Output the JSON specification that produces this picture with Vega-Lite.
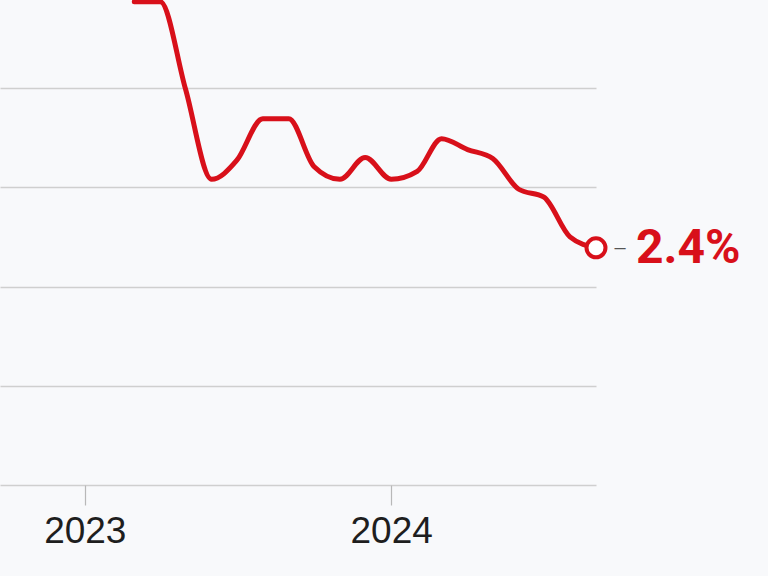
{
  "$schema": "https://vega.github.io/schema/vega-lite/v6.json",
  "autosize": {"type": "none"},
  "width": 596,
  "height": 485,
  "padding": {"top": 0, "left": 0, "right": 172, "bottom": 91},
  "background": "#f8f9fb",
  "config": {"view": {"stroke": null}},
  "data": {
    "values": [
      {"date": "2023-03-01", "value": 4.87},
      {"date": "2023-04-01", "value": 4.87},
      {"date": "2023-05-01", "value": 3.99},
      {"date": "2023-06-01", "value": 3.08},
      {"date": "2023-07-01", "value": 3.27},
      {"date": "2023-08-01", "value": 3.69},
      {"date": "2023-09-01", "value": 3.69},
      {"date": "2023-10-01", "value": 3.21},
      {"date": "2023-11-01", "value": 3.08},
      {"date": "2023-12-01", "value": 3.3},
      {"date": "2024-01-01", "value": 3.08},
      {"date": "2024-02-01", "value": 3.16},
      {"date": "2024-03-01", "value": 3.49},
      {"date": "2024-04-01", "value": 3.38},
      {"date": "2024-05-01", "value": 3.29},
      {"date": "2024-06-01", "value": 2.98},
      {"date": "2024-07-01", "value": 2.9},
      {"date": "2024-08-01", "value": 2.5},
      {"date": "2024-09-01", "value": 2.39}
    ]
  },
  "encoding": {
    "x": {
      "field": "date",
      "type": "temporal",
      "scale": {"type": "utc", "domain": [{"year": 2022, "month": 9, "date": 22, "utc": true}, {"year": 2024, "month": 9, "date": 1, "utc": true}]},
      "axis": {
        "title": null,
        "values": [{"year": 2023, "month": 1, "date": 1, "utc": true}, {"year": 2024, "month": 1, "date": 1, "utc": true}],
        "format": "%Y",
        "grid": false,
        "domain": false,
        "ticks": true,
        "tickSize": 20,
        "tickColor": "#b8b8b8",
        "tickWidth": 1.2,
        "labelFont": "Liberation Sans",
        "labelFontSize": 37,
        "labelColor": "#1e1e1e",
        "labelPadding": 8
      }
    },
    "y": {
      "field": "value",
      "type": "quantitative",
      "scale": {"domain": [0, 4.887], "nice": false, "zero": false},
      "axis": {
        "title": null,
        "values": [0, 1, 2, 3, 4],
        "labels": false,
        "ticks": false,
        "domain": false,
        "grid": true,
        "gridColor": "#cfcfcf",
        "gridWidth": 1.5
      }
    }
  },
  "layer": [
    {
      "mark": {"type": "line", "color": "#d8101a", "strokeWidth": 5, "interpolate": "monotone", "strokeCap": "round", "strokeJoin": "round"}
    },
    {
      "transform": [
        {"window": [{"op": "row_number", "as": "r"}], "sort": [{"field": "date", "order": "descending"}]},
        {"filter": "datum.r == 1"}
      ],
      "layer": [
        {"mark": {"type": "point", "shape": "circle", "size": 360, "filled": true, "fill": "#ffffff", "stroke": "#d8101a", "strokeWidth": 4, "opacity": 1}},
        {"mark": {"type": "text", "text": "–", "dx": 24, "align": "center", "baseline": "middle", "fontSize": 20, "color": "#555555", "font": "Liberation Sans"}},
        {
          "transform": [{"calculate": "format(datum.value, '.1f') + '%'", "as": "label"}],
          "mark": {"type": "text", "dx": 40, "dy": 1, "align": "left", "baseline": "middle", "fontSize": 48, "fontWeight": "bold", "font": "Roboto", "color": "#d8101a"},
          "encoding": {"text": {"field": "label"}}
        }
      ]
    }
  ]
}
